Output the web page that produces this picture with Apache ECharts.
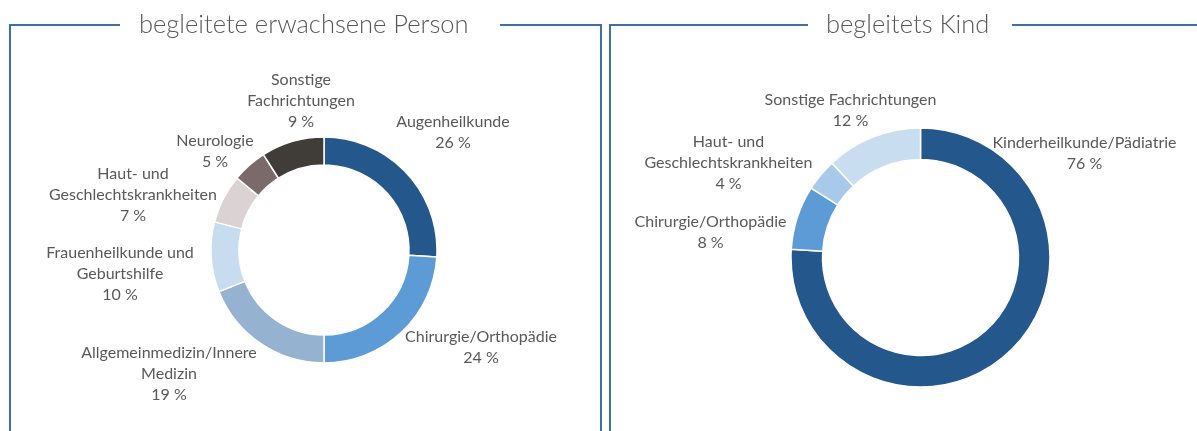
<!DOCTYPE html>
<html>
<head>
<meta charset="utf-8">
<script src="https://cdn.jsdelivr.net/npm/echarts@6/dist/echarts.min.js"></script>
<style>
  html, body { margin: 0; padding: 0; background: #fff; }
  #chart { width: 1197px; height: 431px; }
</style>
</head>
<body>
<div id="chart"></div>
<script>
// Daten: Fachrichtungen und Anteile in %
var adultNames = ['Augenheilkunde', 'Chirurgie/Orthopädie', 'Allgemeinmedizin/Innere\nMedizin',
  'Frauenheilkunde und\nGeburtshilfe', 'Haut- und\nGeschlechtskrankheiten', 'Neurologie', 'Sonstige\nFachrichtungen'];
var adultValues = [26, 24, 19, 10, 7, 5, 9];

var childNames = ['Kinderheilkunde/Pädiatrie', 'Chirurgie/Orthopädie', 'Haut- und\nGeschlechtskrankheiten',
  'Sonstige Fachrichtungen'];
var childValues = [76, 8, 4, 12];

var adultColors = ['#24578b', '#5d9bd6', '#95b3d1', '#c8dcf0', '#dbd3d3', '#7a6a6a', '#403c37'];
var childColors = ['#24578b', '#5d9bd6', '#a9c9eb', '#c9ddf1'];

// Label-Mittelpunkte relativ zum Kreismittelpunkt (Layout)
var pieCenters = [[324, 250], [920.5, 257.5]];
var labelSpots = [
  [[129, -118], [157, 97], [-155, 124], [-204, 24], [-191, -55], [-109, -99], [-23, -149]],
  [[164, -104], [-210, -25], [-192, -95], [-70, -147]]
];

var textColor = '#595959';
var frameColor = '#3f6fa3';
var fontName = 'Lato';

function toData(names, values, colors) {
  return names.map(function (n, i) {
    return { name: n, value: values[i], itemStyle: { color: colors[i] } };
  });
}

function frameLine(points) {
  return {
    type: 'polyline',
    shape: { points: points },
    style: { stroke: frameColor, lineWidth: 2, fill: null },
    silent: true
  };
}

function pieSeries(k, radius, names, values, colors) {
  return {
    type: 'pie',
    center: pieCenters[k],
    radius: radius,
    startAngle: 90,
    clockwise: true,
    itemStyle: { borderColor: '#fff', borderWidth: 1.5 },
    label: {
      show: true,
      position: 'outside',
      formatter: '{b}\n{c} %',
      color: textColor,
      fontSize: 16,
      lineHeight: 21,
      fontFamily: fontName,
      overflow: 'none'
    },
    labelLine: { show: false },
    labelLayout: function (p) {
      var s = labelSpots[k][p.dataIndex];
      return { x: pieCenters[k][0] + s[0], y: pieCenters[k][1] + s[1], align: 'center', verticalAlign: 'middle' };
    },
    emphasis: { disabled: true },
    data: toData(names, values, colors)
  };
}

var chart = echarts.init(document.getElementById('chart'));

var option = {
  animation: false,
  textStyle: { fontFamily: fontName },
  graphic: [
    frameLine([[120, 25], [10, 25], [10, 440]]),
    frameLine([[500, 25], [601, 25], [601, 440]]),
    frameLine([[808, 25], [610, 25], [610, 440]]),
    frameLine([[1012, 25], [1200, 25]]),
    {
      type: 'text', left: 139, top: 12,
      style: { text: 'begleitete erwachsene Person', fill: textColor, font: '300 25.5px ' + fontName }
    },
    {
      type: 'text', left: 826, top: 12,
      style: { text: 'begleitets Kind', fill: textColor, font: '300 25.5px ' + fontName }
    }
  ],
  series: [
    pieSeries(0, [85, 113], adultNames, adultValues, adultColors),
    pieSeries(1, [98, 129.5], childNames, childValues, childColors)
  ]
};

chart.setOption(option);
</script>
</body>
</html>
